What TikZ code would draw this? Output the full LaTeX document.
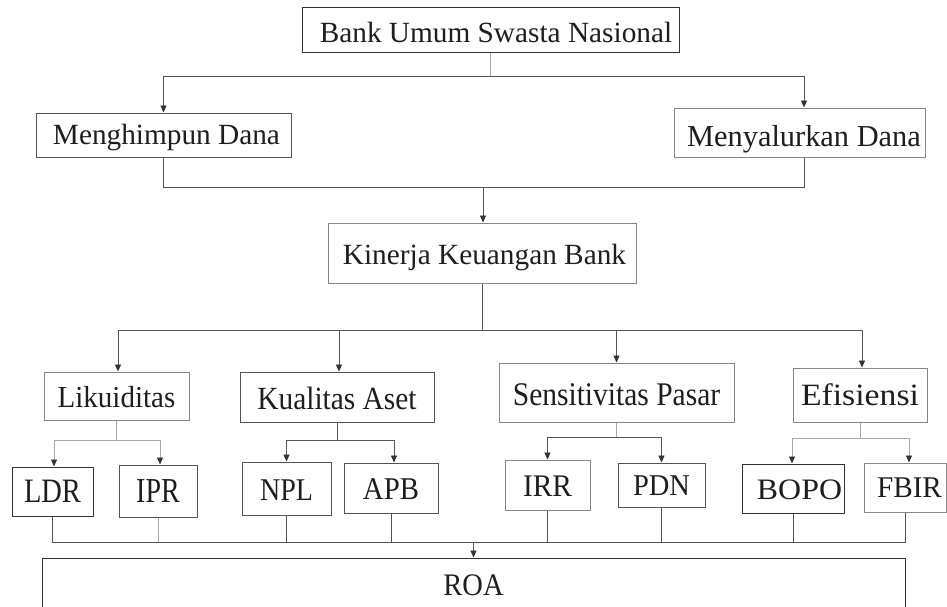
\documentclass[tikz,border=0pt]{standalone}
\usepackage{graphicx}
\usepackage{fontspec}
\setmainfont{Liberation Serif}
\usetikzlibrary{arrows.meta}
\definecolor{ink}{HTML}{1E1E1E}
\definecolor{dk}{HTML}{333333}
\definecolor{md}{HTML}{555555}
\definecolor{lt}{HTML}{858585}
\definecolor{ltl}{HTML}{A8A8A8}
\newcommand{\vsq}[2]{\scalebox{1}[#1]{#2}}
\newcommand{\fs}[1]{\fontsize{#1}{#1}\selectfont}
\begin{document}
\begin{tikzpicture}[x=1pt,y=-1pt,
  box/.style={draw=#1, line width=1pt, rectangle, inner sep=0pt, text=ink,
    text height=19pt, text depth=0pt, font=\fs{29.3}},
  box/.default=dk,
  conn/.style={draw=md, line width=0.9pt},
  connl/.style={draw=ltl, line width=0.9pt},
  conna/.style={conn, -{Triangle[length=7pt,width=6pt,color=dk]}},
  connla/.style={connl, -{Triangle[length=7pt,width=6pt,color=dk]}}]
\useasboundingbox (0,0) rectangle (947,606);
\clip (0,0) rectangle (947,606);
\fill[white] (0,0) rectangle (947,606);

% nodes
\node[box=dk, text height=25.4pt, minimum width=377pt, minimum height=45pt] (bank) at (490.5,29.5) {\hspace*{11pt}Bank Umum Swasta Nasional};
\node[box=md, text height=19.4pt, minimum width=255pt, minimum height=44pt] (mhd) at (163.5,135) {\hspace*{6pt}Menghimpun Dana};
\node[box=lt, font=\fs{30.4}, text height=27pt, minimum width=251pt, minimum height=49pt] (myd) at (799.5,132.5) {\hspace*{9pt}Menyalurkan Dana};
\node[box=lt, text height=23.4pt, minimum width=308pt, minimum height=60pt] (kin) at (482,253) {\hspace*{5pt}Kinerja Keuangan Bank};

\node[box=lt, font=\fs{29}, text height=22.2pt, minimum width=145pt, minimum height=48pt] (lik) at (116.5,396) {\vsq{1.05}{Likuiditas}};
\node[box=md, font=\fs{29.4}, text height=24.4pt, minimum width=194pt, minimum height=50pt] (kua) at (337,397) {\vsq{1.1}{Kualitas Aset}};
\node[box=lt, font=\fs{29.5}, text height=26.9pt, minimum width=235pt, minimum height=59pt] (sen) at (616.5,392.5) {\vsq{1.12}{Sensitivitas Pasar}};
\node[box=lt, font=\fs{33.7}, text height=20pt, minimum width=134pt, minimum height=54pt] (efi) at (860,395) {\vsq{0.92}{Efisiensi}};

\node[box=dk, font=\fs{28.5}, text height=22.6pt, minimum width=81pt, minimum height=49pt] (ldr) at (52.5,491.5) {\vsq{1.2}{LDR}};
\node[box=md, font=\fs{28}, text height=23.2pt, minimum width=78pt, minimum height=52pt] (ipr) at (158,491) {\vsq{1.25}{IPR}};
\node[box=md, font=\fs{28}, text height=23pt, minimum width=89pt, minimum height=53pt] (npl) at (286.5,488.5) {\vsq{1.13}{NPL}};
\node[box=md, font=\fs{28.8}, text height=23pt, minimum width=94pt, minimum height=50pt] (apb) at (391,488) {\vsq{1.1}{APB}};
\node[box=lt, font=\fs{29.4}, text height=22.8pt, minimum width=85pt, minimum height=50pt] (irr) at (547.5,485) {\vsq{1.07}{IRR}};
\node[box=md, font=\fs{28.5}, text height=20pt, minimum width=87pt, minimum height=44pt] (pdn) at (661.5,485) {\vsq{1.06}{PDN}};
\node[box=dk, font=\fs{31.9}, text height=22.6pt, minimum width=102pt, minimum height=49pt] (bopo) at (793,488.5) {\hspace*{13pt}\vsq{0.93}{BOPO}};
\node[box=lt, font=\fs{29.2}, text height=20pt, minimum width=82pt, minimum height=49pt] (fbir) at (905,487.5) {\hspace*{9pt}\vsq{1.03}{FBIR}};

\node[box=dk, font=\fs{28.5}, text height=20.7pt, minimum width=863pt, minimum height=54pt] (roa) at (473.5,585) {\vsq{1.1}{ROA}};

% top level
\coordinate (t1) at (490.5,76);
\draw[connl] (bank.south) -- (t1);
\draw[conna] (t1) -| (mhd.north);
\draw[conna] (t1) -| ([xshift=4.5pt]myd.north);

\coordinate (t2) at (483,187);
\draw[conn] (mhd.south) |- (t2);
\draw[conn] ([xshift=4.5pt]myd.south) |- (t2);
\draw[conna] (t2) -- (t2|-kin.north);

\coordinate (t3) at (482,330);
\draw[conn] (kin.south) -- (t3);
\draw[conna] (t3) -| ([xshift=1.5pt]lik.north);
\draw[conna] (t3) -| ([xshift=2pt]kua.north);
\draw[conna] (t3) -| (sen.north);
\draw[conna] (t3) -| ([xshift=2pt]efi.north);

% second level branches
\coordinate (l1) at (116.5,440);
\draw[connl] (lik.south) -- (l1);
\draw[connla] (l1) -| ([xshift=1.5pt]ldr.north);
\draw[connla] (l1) -| ([xshift=2pt]ipr.north);

\coordinate (k1) at (337,440);
\draw[conn] (kua.south) -- (k1);
\draw[conna] (k1) -| (npl.north);
\draw[conna] (k1) -| ([xshift=3pt]apb.north);

\coordinate (s1) at (616.5,437);
\draw[connl] (sen.south) -- (s1);
\draw[conna] (s1) -| (irr.north);
\draw[conna] (s1) -| (pdn.north);

\coordinate (e1) at (860,438);
\draw[connl] (efi.south) -- (e1);
\draw[connla] (e1) -| ([xshift=-1pt]bopo.north);
\draw[connla] (e1) -| ([xshift=4pt]fbir.north);

% bottom join
\coordinate (b1) at (473.5,542);
\draw[conn] (ldr.south) |- (b1);
\draw[conn] (fbir.south) |- (b1);
\draw[connl] (ipr.south) -- (ipr.south|-b1);
\draw[conn] (npl.south) -- (npl.south|-b1);
\draw[conn] (apb.south) -- (apb.south|-b1);
\draw[conn] (irr.south) -- (irr.south|-b1);
\draw[conn] (pdn.south) -- (pdn.south|-b1);
\draw[conn] (bopo.south) -- (bopo.south|-b1);
\draw[conna] (b1) -- (roa.north);
\end{tikzpicture}
\end{document}
